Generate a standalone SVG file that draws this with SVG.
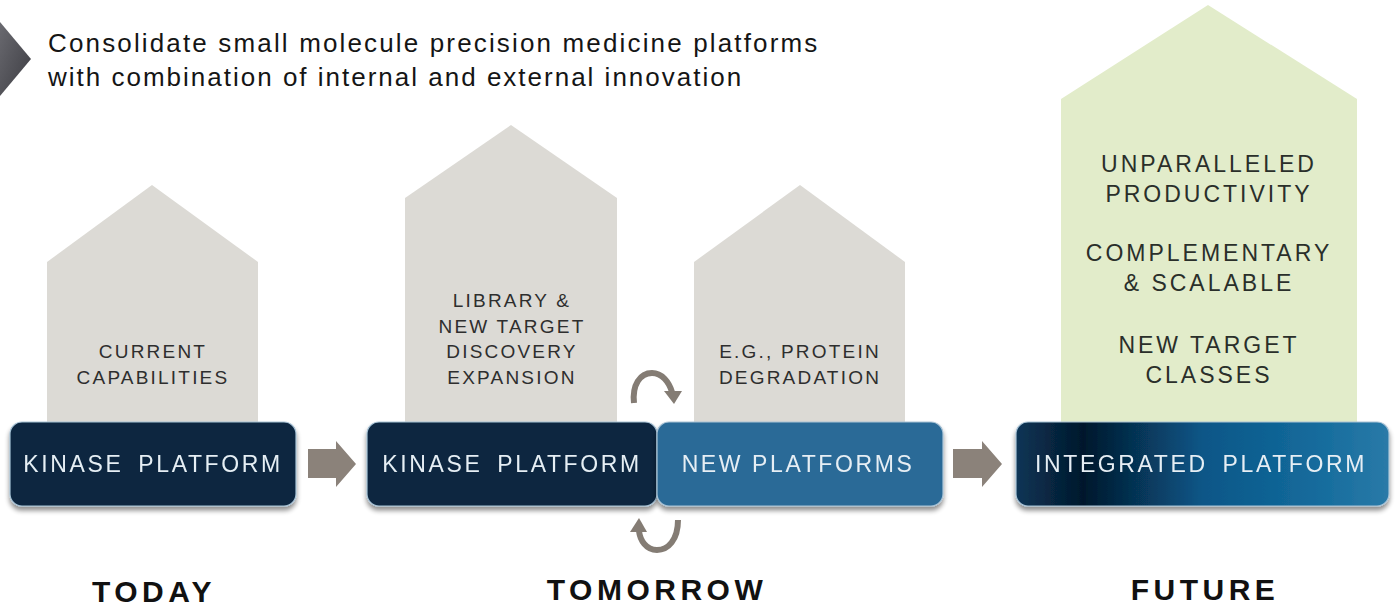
<svg xmlns="http://www.w3.org/2000/svg" width="1395" height="610" viewBox="0 0 1395 610">
  <defs>
    <linearGradient id="chev" x1="0" y1="0" x2="1" y2="1">
      <stop offset="0" stop-color="#6a6a70"/>
      <stop offset="1" stop-color="#3c3c42"/>
    </linearGradient>
    <linearGradient id="integ" x1="0" y1="0" x2="1" y2="0">
      <stop offset="0" stop-color="#0b3556"/>
      <stop offset="0.18" stop-color="#03182c"/>
      <stop offset="0.5" stop-color="#0a5687"/>
      <stop offset="0.8" stop-color="#146b9c"/>
      <stop offset="1" stop-color="#2a7aa8"/>
    </linearGradient>
    <filter id="shadow" x="-5%" y="-10%" width="110%" height="130%">
      <feGaussianBlur in="SourceAlpha" stdDeviation="2.5"/>
      <feOffset dx="0" dy="4" result="b"/>
      <feComponentTransfer><feFuncA type="linear" slope="0.45"/></feComponentTransfer>
      <feMerge><feMergeNode/><feMergeNode in="SourceGraphic"/></feMerge>
    </filter>
  </defs>
  <style>
    .house { fill: #dcdad5; }
    .green { fill: #e2ecca; }
    .htxt { font-family: "Liberation Sans", Arial, sans-serif; font-size: 19px; fill: #2e2e2e; text-anchor: middle; letter-spacing: 2.2px; }
    .gtxt { font-family: "Liberation Sans", Arial, sans-serif; font-size: 23px; fill: #2a2f2a; text-anchor: middle; letter-spacing: 3px; }
    .box { stroke: #a9c3d6; stroke-width: 1.2; }
    .btxt { font-family: "Liberation Sans", Arial, sans-serif; font-size: 23px; fill: #e6eef4; text-anchor: middle; letter-spacing: 2.6px; word-spacing: 6px; }
    .era { font-family: "Liberation Sans", Arial, sans-serif; font-size: 30px; font-weight: bold; fill: #111; text-anchor: middle; letter-spacing: 4.5px; }
    .head { font-family: "Liberation Sans", Arial, sans-serif; font-size: 26px; fill: #151515; }
    .step { fill: #8b827a; }
    .loop { fill: none; stroke: #847c74; stroke-width: 6; }
    .loophead { fill: #847c74; }
  </style>

  <!-- heading -->
  <g id="heading">
    <path d="M0,22 L31,59 L0,96 Z" fill="url(#chev)"/>
    <text class="head" x="48" y="52" letter-spacing="2.15">Consolidate small molecule precision medicine platforms</text>
    <text class="head" x="48" y="86" letter-spacing="2">with combination of internal  and external innovation</text>
  </g>

  <!-- today -->
  <g id="today-house">
    <path class="house" d="M47,262 L152,185 L258,262 L258,430 L47,430 Z"/>
    <text class="htxt" x="153" y="358">CURRENT</text>
    <text class="htxt" x="153" y="384">CAPABILITIES</text>
  </g>
  <g id="today-platform" filter="url(#shadow)">
    <rect class="box" x="10" y="422" width="286" height="84" rx="12" fill="#0b2841"/>
    <text class="btxt" x="153" y="472">KINASE PLATFORM</text>
  </g>

  <!-- tomorrow -->
  <g id="tomorrow-kinase-house">
    <path class="house" d="M405,198 L511,125 L617,198 L617,430 L405,430 Z"/>
    <text class="htxt" x="512" y="307">LIBRARY &amp;</text>
    <text class="htxt" x="512" y="333">NEW TARGET</text>
    <text class="htxt" x="512" y="358">DISCOVERY</text>
    <text class="htxt" x="512" y="384">EXPANSION</text>
  </g>
  <g id="tomorrow-new-house">
    <path class="house" d="M694,262 L800,185 L905,262 L905,430 L694,430 Z"/>
    <text class="htxt" x="800" y="358">E.G., PROTEIN</text>
    <text class="htxt" x="800" y="384">DEGRADATION</text>
  </g>
  <g id="tomorrow-kinase-platform" filter="url(#shadow)">
    <rect class="box" x="367" y="422" width="290" height="84" rx="12" fill="#0b2841"/>
    <text class="btxt" x="512" y="472">KINASE PLATFORM</text>
  </g>
  <g id="tomorrow-new-platforms" filter="url(#shadow)">
    <rect class="box" x="657" y="422" width="286" height="84" rx="12" fill="#2c6b97"/>
    <text class="btxt" x="798" y="472" style="word-spacing:0">NEW PLATFORMS</text>
  </g>

  <!-- future -->
  <g id="future-house">
    <path class="green" d="M1061,99 L1208,5 L1357,99 L1357,430 L1061,430 Z"/>
    <text class="gtxt" x="1209" y="172">UNPARALLELED</text>
    <text class="gtxt" x="1209" y="202">PRODUCTIVITY</text>
    <text class="gtxt" x="1209" y="261">COMPLEMENTARY</text>
    <text class="gtxt" x="1209" y="291">&amp; SCALABLE</text>
    <text class="gtxt" x="1209" y="353">NEW TARGET</text>
    <text class="gtxt" x="1209" y="383">CLASSES</text>
  </g>
  <g id="future-platform" filter="url(#shadow)">
    <rect class="box" x="1016" y="422" width="373" height="84" rx="12" fill="url(#integ)"/>
    <text class="btxt" x="1201" y="472">INTEGRATED PLATFORM</text>
  </g>

  <!-- era labels -->
  <g id="labels">
    <text class="era" x="154" y="602">TODAY</text>
    <text class="era" x="657" y="600">TOMORROW</text>
    <text class="era" x="1205" y="600">FUTURE</text>
  </g>

  <!-- connectors -->
  <g id="connectors">
    <path class="step" d="M308,449 L336,449 L336,441 L356,464 L336,487 L336,478 L308,478 Z"/>
    <path class="step" d="M953,449 L982,449 L982,441 L1002,464 L982,487 L982,478 L953,478 Z"/>
    <path class="loop" d="M634,403 C632,385 640,373 652,373 C662,373 669,382 672,392"/>
    <path class="loophead" d="M664,391 L682,391 L674,404 Z"/>
    <path class="loop" d="M678,520 C678,540 668,550 657,550 C646,550 640,540 639,531"/>
    <path class="loophead" d="M630,532 L647,532 L639,518 Z"/>
  </g>
</svg>
